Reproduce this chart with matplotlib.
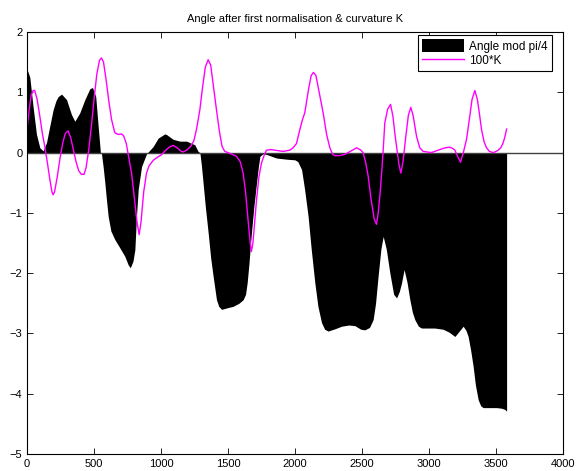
import numpy as np
import matplotlib
matplotlib.use("Agg")
import matplotlib.pyplot as plt

plt.rcParams['font.family'] = ['Liberation Sans', 'DejaVu Sans']

# angle mod pi/4 (black area)
angle_x = [0, 20, 45, 70, 95, 120, 145, 170, 194, 215, 232, 257, 294, 331, 356, 393, 431,
           468, 488, 512, 530, 547,
           555, 567, 580, 592, 605, 625, 654, 692, 729, 754, 770, 790, 804, 816, 829, 854, 891,
           940, 978, 1027, 1040, 1090, 1140, 1190, 1251, 1276,
           1289, 1300, 1313, 1330, 1351, 1370, 1388, 1413, 1430, 1451, 1500, 1537, 1580, 1612,
           1630, 1642, 1655, 1674, 1692, 1712, 1725, 1737, 1760,
           1786, 1861, 1940, 1998, 2020, 2048, 2070, 2097, 2120, 2147, 2170, 2197, 2220, 2246,
           2300, 2346, 2400, 2445, 2490, 2520, 2555, 2582, 2600, 2619, 2640, 2657, 2680, 2707,
           2735, 2757, 2778, 2794, 2813, 2835, 2856, 2875, 2893, 2920, 2943, 3000, 3042, 3104,
           3150, 3192, 3225, 3254, 3275, 3291, 3310, 3328, 3345, 3366, 3385, 3403, 3503, 3540,
           3565, 3578]
angle_y = [1.38, 1.25, 0.75, 0.30, 0.08, 0.03, 0.17, 0.45, 0.71, 0.86, 0.93, 0.97, 0.88, 0.63,
           0.52, 0.66, 0.88, 1.06, 1.08, 0.93, 0.44, 0.00,
           -0.02, -0.23, -0.50, -0.78, -1.06, -1.30, -1.44, -1.58, -1.72, -1.86, -1.91, -1.80,
           -1.61, -1.06, -0.61, -0.23, -0.02,
           0.10, 0.24, 0.31, 0.30, 0.22, 0.19, 0.19, 0.13, 0.02,
           0.00, -0.20, -0.50, -0.90, -1.33, -1.75, -2.05, -2.44, -2.55, -2.60, -2.57, -2.55,
           -2.50, -2.44, -2.35, -2.16, -1.85, -1.33, -0.90, -0.50, -0.25, -0.06, -0.02,
           -0.03, -0.09, -0.11, -0.12, -0.15, -0.28, -0.60, -1.06, -1.60, -2.16, -2.55, -2.82,
           -2.93, -2.96, -2.92, -2.88, -2.86, -2.87, -2.93, -2.94, -2.90, -2.77, -2.50, -2.05,
           -1.60, -1.39, -1.60, -2.00, -2.35, -2.41, -2.30, -2.16, -1.94, -2.15, -2.44, -2.65,
           -2.77, -2.88, -2.91, -2.91, -2.91, -2.93, -2.98, -3.05, -2.96, -2.88, -2.95, -3.05,
           -3.28, -3.54, -3.85, -4.10, -4.20, -4.23, -4.23, -4.24, -4.26, -4.29]

# 100 * curvature (magenta line)
k_x = [0, 15, 30, 45, 57, 75, 95, 115, 132, 150, 170, 185, 194, 205, 225, 245, 265, 285,
       306, 325, 345, 365, 385, 405, 425, 440, 460, 480, 500, 520, 540, 555, 570, 590, 610,
       630, 654, 680, 704, 720, 740, 760, 780, 800, 820, 836, 850, 870, 891, 910, 940, 970,
       1000, 1030, 1060, 1090, 1120, 1150, 1164, 1190, 1220, 1245, 1265, 1289, 1310, 1330,
       1351, 1370, 1390, 1413, 1435, 1455, 1475, 1520, 1562, 1590, 1612, 1630, 1650, 1665,
       1674, 1685, 1700, 1712, 1730, 1749, 1770, 1786, 1820, 1850, 1910, 1960, 1985, 2010,
       2035, 2055, 2072, 2100, 2120, 2137, 2155, 2175, 2209, 2235, 2259, 2280, 2296, 2330,
       2371, 2420, 2458, 2485, 2507, 2525, 2545, 2565, 2590, 2607, 2620, 2635, 2649, 2660,
       2669, 2690, 2712, 2730, 2745, 2757, 2775, 2789, 2805, 2826, 2845, 2863, 2880, 2906,
       2930, 2955, 3017, 3079, 3120, 3154, 3175, 3192, 3210, 3234, 3255, 3279, 3300, 3320,
       3341, 3360, 3375, 3391, 3410, 3428, 3450, 3478, 3500, 3515, 3535, 3552, 3565, 3578]
k_y = [0.41, 0.70, 0.95, 1.03, 1.03, 0.88, 0.60, 0.30, 0.10, -0.15, -0.45, -0.65, -0.70,
       -0.65, -0.40, -0.10, 0.15, 0.32, 0.36, 0.25, 0.05, -0.15, -0.30, -0.36, -0.36, -0.25,
       0.05, 0.45, 0.90, 1.30, 1.53, 1.57, 1.50, 1.20, 0.85, 0.55, 0.33, 0.30, 0.31, 0.28,
       0.15, -0.10, -0.35, -0.75, -1.15, -1.36, -1.15, -0.65, -0.34, -0.22, -0.13, -0.08,
       -0.04, 0.03, 0.09, 0.12, 0.08, 0.02, 0.01, 0.04, 0.10, 0.20, 0.40, 0.71, 1.10, 1.42,
       1.54, 1.45, 1.10, 0.71, 0.35, 0.10, 0.02, -0.02, -0.06, -0.15, -0.34, -0.65, -1.15,
       -1.50, -1.64, -1.50, -1.10, -0.78, -0.40, -0.17, -0.04, 0.04, 0.05, 0.04, 0.02, 0.04,
       0.08, 0.15, 0.38, 0.55, 0.66, 1.05, 1.28, 1.33, 1.28, 1.05, 0.66, 0.30, 0.08, -0.03,
       -0.05, -0.05, -0.03, 0.03, 0.08, 0.05, 0.00, -0.15, -0.39, -0.75, -1.10, -1.19, -1.00,
       -0.65, -0.23, 0.15, 0.49, 0.72, 0.80, 0.60, 0.30, 0.10, -0.20, -0.34, -0.15, 0.27,
       0.62, 0.75, 0.62, 0.27, 0.08, 0.02, 0.00, 0.05, 0.08, 0.09, 0.07, 0.04, -0.05, -0.16,
       0.00, 0.22, 0.55, 0.88, 1.03, 0.88, 0.65, 0.38, 0.18, 0.08, 0.02, 0.00, 0.02, 0.04,
       0.08, 0.16, 0.26, 0.39]

fig = plt.figure(figsize=(5.77, 4.71), dpi=100)
ax = fig.add_axes([0.047, 0.036, 0.929, 0.896])

ax.fill_between(angle_x, angle_y, 0, color='black', linewidth=0, label='Angle mod pi/4')
ax.axhline(0, color='#404040', linewidth=1.0)
ax.plot(k_x, k_y, color='#ff00ff', linewidth=1.0, label='100*K')

ax.set_xlim(0, 4000)
ax.set_ylim(-5, 2)
ax.set_xticks(np.arange(0, 4001, 500))
ax.set_yticks(np.arange(-5, 3, 1))
ax.tick_params(direction='in', top=True, right=True, labelsize=8, length=4, width=0.6)
for s in ax.spines.values():
    s.set_linewidth(0.8)

ax.set_title('Angle after first normalisation & curvature K', fontsize=8, pad=7)

leg = ax.legend(loc='upper right', fontsize=8.5, fancybox=False, framealpha=1,
                edgecolor='black', handlelength=3.6, handleheight=1.3,
                borderpad=0.35, labelspacing=0.1, handletextpad=0.4,
                borderaxespad=0, bbox_to_anchor=(0.979, 0.993))
leg.get_frame().set_linewidth(0.8)

fig.savefig('out.png', dpi=100)
